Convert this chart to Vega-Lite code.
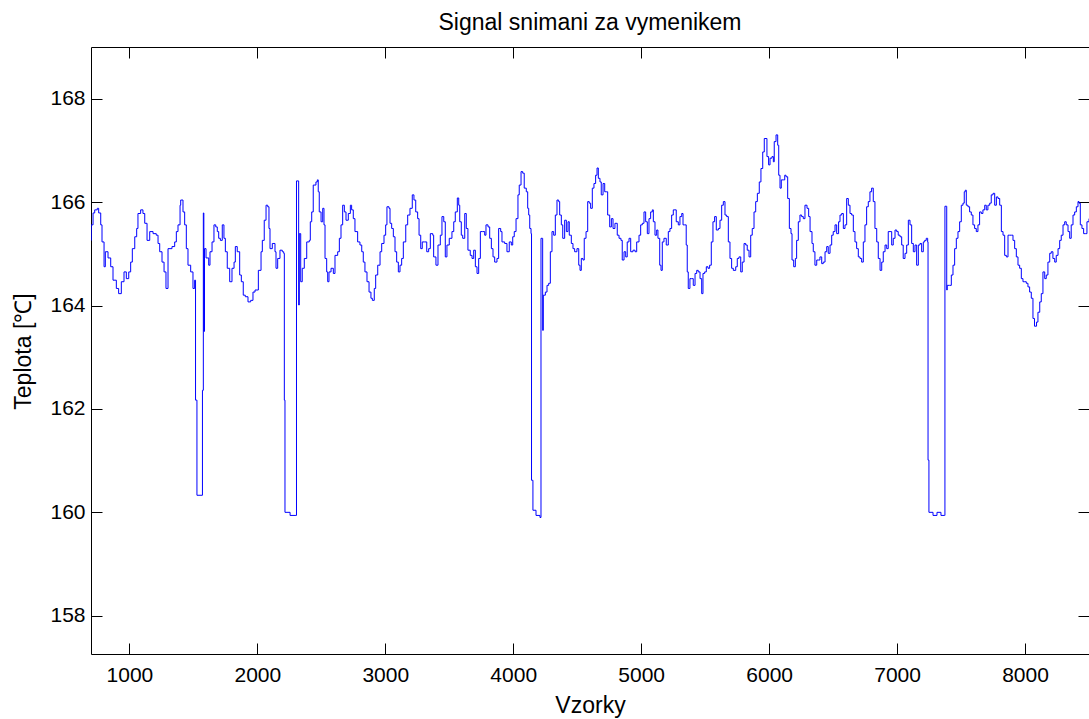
{
  "$schema": "https://vega.github.io/schema/vega-lite/v6.json",
  "width": 998,
  "height": 607,
  "autosize": {"type": "none"},
  "padding": {"left": 91, "top": 47, "right": 0, "bottom": 65},
  "background": "white",
  "title": {
    "text": "Signal snimani za vymenikem",
    "font": "Liberation Sans",
    "fontSize": 23,
    "fontWeight": "normal",
    "color": "black",
    "baseline": "alphabetic",
    "anchor": "middle",
    "frame": "group",
    "offset": 19,
    "dy": 25
  },
  "config": {
    "view": {"stroke": "black", "strokeWidth": 1},
    "axis": {
      "domain": false,
      "grid": false,
      "ticks": true,
      "tickSize": -11,
      "tickColor": "black",
      "tickWidth": 1,
      "labelFont": "Liberation Sans",
      "labelFontSize": 21,
      "labelColor": "black",
      "titleFont": "Liberation Sans",
      "titleFontSize": 23,
      "titleFontWeight": "normal",
      "titleColor": "black"
    }
  },
  "data": {
    "values": [
      {"n":700,"t":165.26},{"n":702,"t":165.56},{"n":716,"t":165.79},{"n":729,"t":165.85},{"n":749,"t":165.88},{"n":760,"t":165.79},{"n":776,"t":165.56},{"n":786,"t":165.23},{"n":802,"t":164.75},{"n":812,"t":165.04},{"n":833,"t":164.92},{"n":854,"t":164.75},{"n":872,"t":164.49},{"n":898,"t":164.33},{"n":916,"t":164.23},{"n":937,"t":164.46},{"n":958,"t":164.65},{"n":976,"t":164.52},{"n":995,"t":164.65},{"n":1010,"t":164.84},{"n":1023,"t":165.10},{"n":1042,"t":165.33},{"n":1057,"t":165.49},{"n":1067,"t":165.78},{"n":1088,"t":165.85},{"n":1106,"t":165.78},{"n":1120,"t":165.59},{"n":1138,"t":165.26},{"n":1159,"t":165.43},{"n":1185,"t":165.39},{"n":1210,"t":165.36},{"n":1224,"t":165.20},{"n":1237,"t":165.04},{"n":1255,"t":164.84},{"n":1271,"t":164.65},{"n":1286,"t":164.33},{"n":1302,"t":165.10},{"n":1333,"t":165.14},{"n":1354,"t":165.23},{"n":1367,"t":165.43},{"n":1380,"t":165.56},{"n":1396,"t":165.94},{"n":1401,"t":166.04},{"n":1419,"t":165.81},{"n":1432,"t":165.56},{"n":1445,"t":165.10},{"n":1458,"t":164.78},{"n":1479,"t":164.65},{"n":1497,"t":164.33},{"n":1510,"t":164.49},
      {"n":1517,"t":162.17},{"n":1528,"t":160.33},{"n":1568,"t":160.33},{"n":1571,"t":162.36},{"n":1578,"t":165.79},{"n":1582,"t":163.50},{"n":1587,"t":165.10},{"n":1599,"t":164.92},{"n":1620,"t":164.78},{"n":1630,"t":165.04},{"n":1646,"t":165.23},{"n":1661,"t":165.56},{"n":1675,"t":165.52},{"n":1687,"t":165.43},{"n":1698,"t":165.30},{"n":1711,"t":165.26},{"n":1726,"t":165.56},{"n":1739,"t":165.30},{"n":1750,"t":165.04},{"n":1765,"t":164.72},{"n":1784,"t":164.46},{"n":1802,"t":164.72},{"n":1818,"t":164.84},{"n":1828,"t":165.14},{"n":1843,"t":165.04},{"n":1862,"t":164.59},{"n":1875,"t":164.46},{"n":1890,"t":164.20},{"n":1906,"t":164.17},{"n":1927,"t":164.07},{"n":1948,"t":164.10},{"n":1966,"t":164.26},{"n":1982,"t":164.30},{"n":2008,"t":164.68},{"n":2029,"t":165.04},{"n":2039,"t":165.26},{"n":2054,"t":165.65},{"n":2068,"t":165.94},{"n":2081,"t":165.91},{"n":2091,"t":165.49},{"n":2099,"t":165.10},{"n":2117,"t":165.20},{"n":2138,"t":165.04},{"n":2146,"t":164.72},{"n":2159,"t":164.91},{"n":2177,"t":165.07},{"n":2195,"t":165.04},{"n":2206,"t":165.01},
      {"n":2211,"t":162.17},{"n":2216,"t":160.00},{"n":2256,"t":159.94},{"n":2295,"t":159.94},{"n":2306,"t":166.41},{"n":2320,"t":166.41},{"n":2323,"t":164.01},{"n":2328,"t":165.39},{"n":2339,"t":164.46},{"n":2351,"t":164.72},{"n":2367,"t":164.91},{"n":2386,"t":165.23},{"n":2406,"t":165.26},{"n":2414,"t":165.62},{"n":2425,"t":165.81},{"n":2437,"t":166.33},{"n":2458,"t":166.39},{"n":2469,"t":166.43},{"n":2476,"t":166.20},{"n":2484,"t":165.81},{"n":2498,"t":165.62},{"n":2511,"t":165.88},{"n":2521,"t":165.56},{"n":2529,"t":164.91},{"n":2542,"t":164.65},{"n":2550,"t":164.46},{"n":2560,"t":164.65},{"n":2576,"t":164.72},{"n":2594,"t":164.62},{"n":2607,"t":164.97},{"n":2628,"t":165.04},{"n":2641,"t":165.30},{"n":2654,"t":165.56},{"n":2667,"t":165.94},{"n":2680,"t":165.81},{"n":2693,"t":165.65},{"n":2711,"t":165.78},{"n":2727,"t":165.94},{"n":2737,"t":165.85},{"n":2750,"t":165.68},{"n":2763,"t":165.43},{"n":2784,"t":165.23},{"n":2802,"t":165.17},{"n":2816,"t":165.04},{"n":2828,"t":164.84},{"n":2841,"t":164.65},{"n":2857,"t":164.46},{"n":2873,"t":164.26},{"n":2888,"t":164.14},{"n":2899,"t":164.10},{"n":2914,"t":164.33},{"n":2925,"t":164.59},{"n":2941,"t":164.78},{"n":2959,"t":165.04},{"n":2972,"t":165.20},{"n":2990,"t":165.36},{"n":3003,"t":165.56},{"n":3013,"t":165.91},{"n":3029,"t":165.88},{"n":3037,"t":165.59},{"n":3050,"t":165.49},{"n":3063,"t":165.33},{"n":3076,"t":165.04},{"n":3089,"t":164.84},{"n":3102,"t":164.65},{"n":3115,"t":164.78},{"n":3128,"t":164.91},{"n":3141,"t":165.23},{"n":3160,"t":165.56},{"n":3175,"t":165.75},{"n":3193,"t":165.88},{"n":3211,"t":166.14},{"n":3224,"t":166.04},{"n":3238,"t":165.81},{"n":3253,"t":165.68},{"n":3264,"t":165.36},{"n":3277,"t":165.10},{"n":3289,"t":165.23},
      {"n":3308,"t":165.23},{"n":3324,"t":165.04},{"n":3339,"t":165.10},{"n":3352,"t":165.39},{"n":3371,"t":165.36},{"n":3378,"t":164.94},{"n":3396,"t":164.78},{"n":3412,"t":165.17},{"n":3430,"t":165.36},{"n":3443,"t":165.72},{"n":3457,"t":165.62},{"n":3469,"t":164.94},{"n":3482,"t":165.17},{"n":3500,"t":165.30},{"n":3521,"t":165.43},{"n":3535,"t":165.62},{"n":3547,"t":165.81},{"n":3563,"t":166.08},{"n":3574,"t":165.94},{"n":3582,"t":165.62},{"n":3594,"t":165.36},{"n":3605,"t":165.30},{"n":3621,"t":165.78},{"n":3633,"t":165.49},{"n":3646,"t":165.07},{"n":3664,"t":164.97},{"n":3678,"t":164.91},{"n":3691,"t":165.07},{"n":3704,"t":164.75},{"n":3717,"t":164.62},{"n":3730,"t":164.91},{"n":3743,"t":165.43},{"n":3761,"t":165.43},{"n":3777,"t":165.36},{"n":3787,"t":165.56},{"n":3803,"t":165.52},{"n":3816,"t":165.30},{"n":3829,"t":165.10},{"n":3842,"t":164.94},{"n":3855,"t":164.84},{"n":3873,"t":164.91},{"n":3886,"t":165.49},{"n":3902,"t":165.43},{"n":3912,"t":165.23},{"n":3933,"t":165.20},{"n":3951,"t":165.04},{"n":3969,"t":165.23},{"n":3985,"t":165.17},{"n":3996,"t":165.33},{"n":4008,"t":165.43},{"n":4022,"t":165.68},{"n":4037,"t":166.14},{"n":4047,"t":166.33},{"n":4061,"t":166.59},{"n":4074,"t":166.56},{"n":4086,"t":166.27},{"n":4102,"t":166.20},{"n":4113,"t":165.88},{"n":4121,"t":165.75},{"n":4129,"t":165.49},{"n":4139,"t":165.39},
      {"n":4143,"t":160.62},{"n":4154,"t":160.04},{"n":4178,"t":159.94},{"n":4209,"t":159.90},{"n":4217,"t":165.30},{"n":4227,"t":165.30},{"n":4230,"t":163.52},{"n":4235,"t":164.20},{"n":4251,"t":164.26},{"n":4264,"t":164.39},{"n":4277,"t":164.43},{"n":4290,"t":165.04},{"n":4303,"t":165.43},{"n":4316,"t":165.36},{"n":4329,"t":165.75},{"n":4342,"t":166.04},{"n":4355,"t":166.01},{"n":4363,"t":165.75},{"n":4376,"t":165.56},{"n":4387,"t":165.30},{"n":4402,"t":165.65},{"n":4415,"t":165.43},{"n":4428,"t":165.62},{"n":4438,"t":165.36},{"n":4454,"t":165.20},{"n":4467,"t":165.10},{"n":4480,"t":165.04},{"n":4498,"t":165.10},{"n":4512,"t":164.78},{"n":4522,"t":164.68},{"n":4532,"t":164.91},{"n":4545,"t":164.88},{"n":4555,"t":165.30},{"n":4569,"t":165.43},{"n":4582,"t":166.01},{"n":4594,"t":165.98},
      {"n":4605,"t":165.88},{"n":4618,"t":166.27},{"n":4631,"t":166.36},{"n":4644,"t":166.52},{"n":4655,"t":166.66},{"n":4665,"t":166.46},{"n":4678,"t":166.39},{"n":4688,"t":166.14},{"n":4702,"t":166.36},{"n":4715,"t":166.20},{"n":4727,"t":166.20},{"n":4738,"t":165.75},{"n":4754,"t":165.52},{"n":4767,"t":165.68},{"n":4780,"t":165.49},{"n":4795,"t":165.59},{"n":4813,"t":165.36},{"n":4827,"t":165.30},{"n":4842,"t":165.26},{"n":4852,"t":164.88},{"n":4866,"t":165.04},{"n":4879,"t":164.94},{"n":4891,"t":165.23},{"n":4905,"t":165.30},{"n":4918,"t":165.04},{"n":4936,"t":165.07},{"n":4952,"t":165.04},{"n":4965,"t":165.23},{"n":4983,"t":165.36},{"n":4996,"t":165.56},{"n":5009,"t":165.59},{"n":5022,"t":165.81},{"n":5035,"t":165.62},{"n":5048,"t":165.39},{"n":5061,"t":165.68},{"n":5074,"t":165.81},{"n":5087,"t":165.85},{"n":5095,"t":165.62},{"n":5108,"t":165.36},{"n":5121,"t":165.46},{"n":5131,"t":165.30},{"n":5145,"t":164.78},{"n":5155,"t":164.68},{"n":5165,"t":165.23},{"n":5178,"t":165.30},{"n":5196,"t":165.17},{"n":5212,"t":165.43},{"n":5225,"t":165.49},{"n":5238,"t":165.75},{"n":5251,"t":165.85},{"n":5264,"t":165.85},{"n":5274,"t":165.62},{"n":5290,"t":165.56},{"n":5303,"t":165.72},{"n":5317,"t":165.78},{"n":5327,"t":165.56},{"n":5340,"t":165.56},{"n":5352,"t":165.17},{"n":5360,"t":164.65},{"n":5368,"t":164.33},{"n":5381,"t":164.52},{"n":5395,"t":164.52},{"n":5407,"t":164.39},{"n":5421,"t":164.62},{"n":5434,"t":164.68},{"n":5446,"t":164.65},{"n":5460,"t":164.52},{"n":5473,"t":164.23},{"n":5483,"t":164.62},{"n":5496,"t":164.65},{"n":5509,"t":164.75},{"n":5522,"t":164.72},{"n":5535,"t":164.78},{"n":5548,"t":165.23},{"n":5561,"t":165.62},{"n":5574,"t":165.72},{"n":5587,"t":165.46},{"n":5603,"t":165.49},{"n":5616,"t":165.65},{"n":5629,"t":165.94},{"n":5642,"t":166.01},{"n":5655,"t":165.75},{"n":5668,"t":165.72},{"n":5681,"t":165.23},{"n":5694,"t":164.91},{"n":5707,"t":164.72},{"n":5720,"t":164.68},{"n":5739,"t":164.75},{"n":5751,"t":164.91},{"n":5764,"t":164.94},{"n":5778,"t":164.65},{"n":5790,"t":164.84},{"n":5804,"t":165.20},{"n":5817,"t":165.17},{"n":5829,"t":165.07},{"n":5843,"t":164.94},{"n":5856,"t":165.36},{"n":5868,"t":165.49},{"n":5882,"t":165.81},{"n":5895,"t":166.01},{"n":5908,"t":166.17},
      {"n":5923,"t":166.39},{"n":5936,"t":166.65},{"n":5950,"t":166.97},{"n":5962,"t":167.23},{"n":5976,"t":167.23},{"n":5983,"t":166.88},{"n":5996,"t":166.72},{"n":6007,"t":166.85},{"n":6022,"t":166.88},{"n":6033,"t":166.78},{"n":6040,"t":167.17},{"n":6054,"t":167.30},{"n":6067,"t":167.10},{"n":6075,"t":166.52},{"n":6085,"t":166.27},{"n":6095,"t":166.43},{"n":6111,"t":166.43},{"n":6122,"t":166.52},{"n":6132,"t":166.49},{"n":6145,"t":166.07},{"n":6158,"t":165.49},{"n":6171,"t":165.39},{"n":6179,"t":164.88},{"n":6192,"t":164.75},{"n":6205,"t":164.91},{"n":6215,"t":165.26},{"n":6228,"t":165.62},{"n":6241,"t":165.75},{"n":6254,"t":165.72},{"n":6267,"t":165.68},{"n":6280,"t":165.94},{"n":6296,"t":165.88},{"n":6309,"t":165.72},{"n":6320,"t":165.43},{"n":6335,"t":165.20},{"n":6345,"t":165.04},{"n":6358,"t":164.78},{"n":6372,"t":164.88},{"n":6384,"t":164.88},{"n":6397,"t":164.94},{"n":6411,"t":164.81},{"n":6423,"t":164.84},{"n":6437,"t":165.04},{"n":6450,"t":165.14},{"n":6462,"t":165.01},{"n":6476,"t":165.17},{"n":6489,"t":165.36},{"n":6501,"t":165.43},{"n":6515,"t":165.56},{"n":6528,"t":165.39},{"n":6543,"t":165.62},{"n":6554,"t":165.75},{"n":6567,"t":165.78},{"n":6580,"t":165.49},{"n":6593,"t":165.56},{"n":6606,"t":166.07},{"n":6619,"t":165.94},{"n":6632,"t":165.78},{"n":6645,"t":165.75},{"n":6658,"t":165.43},{"n":6671,"t":165.23},{"n":6684,"t":165.10},{"n":6697,"t":164.94},{"n":6710,"t":164.91},{"n":6723,"t":164.84},{"n":6736,"t":165.23},{"n":6749,"t":165.56},{"n":6762,"t":165.91},{"n":6775,"t":166.01},{"n":6788,"t":166.20},{"n":6801,"t":166.27},{"n":6814,"t":166.01},{"n":6827,"t":165.49},{"n":6841,"t":165.23},{"n":6853,"t":164.91},{"n":6867,"t":164.68},{"n":6880,"t":164.84},{"n":6892,"t":165.04},{"n":6906,"t":165.17},{"n":6919,"t":165.10},{"n":6931,"t":165.43},{"n":6945,"t":165.43},{"n":6958,"t":165.17},{"n":6970,"t":165.30},{"n":6984,"t":165.46},{"n":6997,"t":165.43},{"n":7009,"t":165.36},{"n":7023,"t":165.33},{"n":7036,"t":165.17},{"n":7048,"t":164.91},{"n":7062,"t":165.01},{"n":7075,"t":165.17},{"n":7088,"t":165.65},{"n":7101,"t":165.56},{"n":7114,"t":165.20},{"n":7127,"t":165.04},{"n":7140,"t":165.17},{"n":7153,"t":164.78},{"n":7166,"t":165.17},{"n":7179,"t":165.20},{"n":7192,"t":165.04},{"n":7205,"t":165.23},{"n":7216,"t":165.26},{"n":7228,"t":165.30},{"n":7239,"t":165.23},
      {"n":7242,"t":161.01},{"n":7249,"t":160.00},{"n":7281,"t":159.94},{"n":7312,"t":160.00},{"n":7343,"t":159.94},{"n":7369,"t":159.94},{"n":7374,"t":165.92},{"n":7385,"t":165.92},{"n":7388,"t":164.30},{"n":7392,"t":164.39},{"n":7411,"t":164.39},{"n":7424,"t":164.59},{"n":7437,"t":164.78},{"n":7450,"t":165.10},{"n":7463,"t":165.30},{"n":7476,"t":165.43},{"n":7489,"t":165.62},{"n":7502,"t":165.94},{"n":7515,"t":165.98},{"n":7525,"t":166.20},{"n":7533,"t":166.23},{"n":7541,"t":165.94},{"n":7554,"t":165.91},{"n":7567,"t":165.81},{"n":7580,"t":165.75},{"n":7593,"t":165.56},{"n":7606,"t":165.49},{"n":7619,"t":165.43},{"n":7632,"t":165.56},{"n":7645,"t":165.81},{"n":7658,"t":165.78},{"n":7671,"t":165.85},{"n":7685,"t":165.94},{"n":7697,"t":165.85},{"n":7710,"t":165.94},{"n":7724,"t":165.98},{"n":7736,"t":166.14},{"n":7750,"t":166.17},{"n":7763,"t":165.94},{"n":7776,"t":166.10},{"n":7789,"t":166.07},{"n":7802,"t":165.94},{"n":7815,"t":165.43},{"n":7828,"t":165.36},{"n":7841,"t":164.97},{"n":7854,"t":164.94},{"n":7867,"t":165.36},{"n":7880,"t":165.36},{"n":7893,"t":165.36},{"n":7906,"t":165.26},{"n":7919,"t":165.10},{"n":7932,"t":164.94},{"n":7945,"t":164.78},{"n":7958,"t":164.72},{"n":7971,"t":164.52},{"n":7984,"t":164.46},{"n":7998,"t":164.46},{"n":8010,"t":164.43},{"n":8023,"t":164.36},{"n":8036,"t":164.26},{"n":8049,"t":164.14},{"n":8062,"t":163.75},{"n":8074,"t":163.60},{"n":8090,"t":163.68},{"n":8101,"t":163.87},{"n":8115,"t":164.07},{"n":8127,"t":164.23},{"n":8140,"t":164.65},{"n":8154,"t":164.52},{"n":8166,"t":164.59},{"n":8179,"t":164.84},{"n":8193,"t":165.01},{"n":8205,"t":165.04},{"n":8218,"t":164.91},{"n":8232,"t":164.84},{"n":8244,"t":164.97},{"n":8258,"t":165.10},{"n":8271,"t":165.26},{"n":8283,"t":165.36},{"n":8297,"t":165.56},{"n":8310,"t":165.62},{"n":8322,"t":165.56},{"n":8336,"t":165.43},{"n":8349,"t":165.30},{"n":8361,"t":165.56},{"n":8375,"t":165.75},{"n":8388,"t":165.81},{"n":8401,"t":165.91},{"n":8414,"t":166.01},{"n":8422,"t":165.98},{"n":8432,"t":165.56},{"n":8445,"t":165.49},{"n":8458,"t":165.39},{"n":8471,"t":165.39},{"n":8484,"t":165.62},{"n":8500,"t":165.68}
    ]
  },
  "layer": [
    {
      "mark": {"type": "line", "color": "#0000ff", "strokeWidth": 1, "interpolate": "step-after", "clip": true},
      "encoding": {
        "x": {
          "field": "n",
          "type": "quantitative",
          "scale": {"domain": [700, 8500], "nice": false, "zero": false},
          "axis": {
            "orient": "bottom",
            "values": [1000, 2000, 3000, 4000, 5000, 6000, 7000, 8000],
            "format": "d",
            "labelBaseline": "alphabetic",
            "labelPadding": 38,
            "labelFlush": false,
            "title": "Vzorky",
            "titleBaseline": "alphabetic",
            "titleAnchor": "middle",
            "titleX": 499,
            "titleY": 58
          }
        },
        "y": {
          "field": "t",
          "type": "quantitative",
          "scale": {"domain": [157.26, 169], "nice": false, "zero": false},
          "axis": {
            "orient": "left",
            "values": [158, 160, 162, 164, 166, 168],
            "format": "d",
            "labelPadding": 17,
            "title": "Teplota [℃]",
            "titleAngle": -90,
            "titleBaseline": "alphabetic",
            "titleAlign": "center",
            "titleX": -61,
            "titleY": 304
          }
        }
      }
    },
    {
      "mark": {"type": "point", "opacity": 0},
      "encoding": {
        "x": {
          "field": "n",
          "type": "quantitative",
          "scale": {"domain": [700, 8500], "nice": false, "zero": false},
          "axis": {
            "orient": "top",
            "values": [1000, 2000, 3000, 4000, 5000, 6000, 7000, 8000],
            "labels": false,
            "title": null
          }
        },
        "y": {
          "field": "t",
          "type": "quantitative",
          "scale": {"domain": [157.26, 169], "nice": false, "zero": false},
          "axis": {
            "orient": "right",
            "values": [158, 160, 162, 164, 166, 168],
            "labels": false,
            "title": null
          }
        }
      }
    }
  ],
  "resolve": {"axis": {"x": "independent", "y": "independent"}}
}
